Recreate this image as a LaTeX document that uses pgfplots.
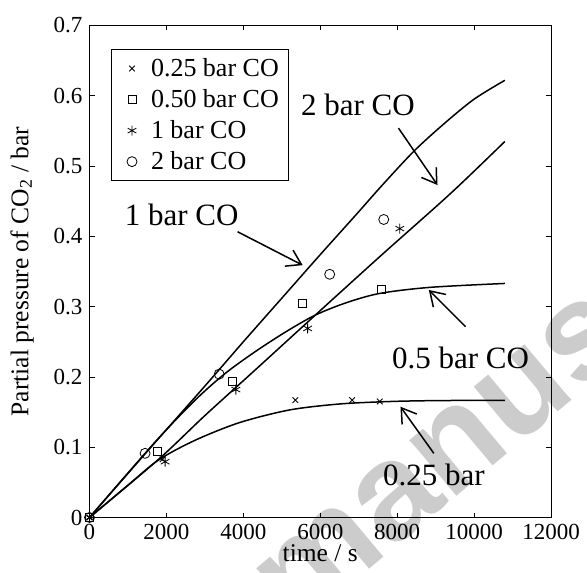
\documentclass[border=0pt]{standalone}
\usepackage{fontspec}
\setmainfont{Liberation Serif}
\newfontfamily\wmfont{Liberation Sans}
\usepackage{pgfplots}
\pgfplotsset{compat=1.18}
\usetikzlibrary{arrows.meta}
\begin{document}
\begin{tikzpicture}
% watermark behind the chart
\node[rotate=40, anchor=base west, text=black!20, font=\wmfont\bfseries\fontsize{69}{70}\selectfont, inner sep=0pt] at (103.5pt,-56.6pt) {manuscript};
\begin{axis}[name=ax,
    scale only axis, width=230.75pt, height=246pt,
    xmin=0, xmax=12000, ymin=0, ymax=0.7,
    xtick={0,2000,...,12000}, ytick={0,0.1,...,0.7},
    scaled x ticks=false, scaled y ticks=false,
    tick align=inside, major tick length=2.5pt,
    axis line style={line width=0.5pt},
    every tick/.style={black,line width=0.4pt},
    /pgf/number format/assume math mode=true,
    xticklabel style={/pgf/number format/1000 sep={}},
    yticklabel style={/pgf/number format/fixed},
    tick label style={font=\fontsize{11.5}{13}\selectfont},
    label style={font=\fontsize{12.75}{14}\selectfont},
    xlabel={time / s},
    ylabel={Partial pressure of CO\textsubscript{2} / bar},
    xlabel style={at={(axis description cs:0.5,-0.072)}, anchor=center},
    ylabel style={at={(axis description cs:-0.146,0.5)}, anchor=center},
    legend style={at={(axis description cs:0,1)}, anchor=north west,
        xshift=11pt, yshift=-12pt, draw=black, line width=0.5pt,
        font=\fontsize{13}{15}\selectfont, cells={anchor=west}, row sep=1pt},
    legend cell align=left,
    legend image code/.code={\path[draw=none] (0,0) -- (14.5pt,0);
        \draw[#1, only marks] plot coordinates {(7pt,0pt)};},
]
% measured points
\addplot[only marks, mark=x, mark size=2pt, mark options={line width=0.4pt}]
  coordinates {(0,0) (1900,0.083) (5352,0.167) (6828,0.167) (7547,0.165)};
\addlegendentry{0.25 bar CO}
\addplot[only marks, mark=square, mark size=2pt, mark options={line width=0.4pt}]
  coordinates {(0,0) (1766,0.0936) (3703,0.193) (5542,0.304) (7591,0.325)};
\addlegendentry{0.50 bar CO}
\addplot[only marks, mark=asterisk, mark size=2.5pt, mark options={line width=0.4pt}]
  coordinates {(0,0) (1966,0.0794) (3806,0.182) (5672,0.269) (8068,0.411)};
\addlegendentry{1 bar CO}
\addplot[only marks, mark=o, mark size=2.5pt, mark options={line width=0.4pt}]
  coordinates {(0,0) (1445,0.0913) (3372,0.204) (6245,0.346) (7651,0.424)};
\addlegendentry{2 bar CO}
% model curves
\addplot[black, line width=0.75pt, smooth, forget plot] coordinates {
  (0,0) (1500,0.094) (3000,0.187) (4000,0.250) (5000,0.312) (6000,0.374)
  (7000,0.435) (7565,0.470) (8432,0.521) (9214,0.560) (9995,0.595) (10800,0.622)};
\addplot[black, line width=0.75pt, smooth, forget plot] coordinates {
  (0,0) (1800,0.083) (3000,0.145) (4310,0.210) (5872,0.288) (7565,0.372)
  (9388,0.461) (10800,0.535)};
\addplot[black, line width=0.75pt, smooth, forget plot] coordinates {
  (0,0) (1700,0.107) (2747,0.167) (3529,0.205) (4310,0.236) (5100,0.264)
  (5872,0.288) (6700,0.306) (7565,0.319) (8867,0.3275) (10800,0.333)};
\addplot[black, line width=0.75pt, smooth, forget plot] coordinates {
  (0,0) (1000,0.046) (1800,0.082) (2750,0.110) (3900,0.135) (5200,0.153)
  (6500,0.1615) (7800,0.165) (9000,0.1663) (10800,0.1668)};
% annotations
\begin{scope}[every node/.style={font=\fontsize{15.5}{17}\selectfont, inner sep=0pt},
    arr/.style={line width=0.75pt, -{Straight Barb[length=7pt,width=9pt]}}]
\node at (axis cs:6979,0.587) {2 bar CO};
\draw[arr] (axis cs:8034,0.554) -- (axis cs:9049,0.473);
\node at (axis cs:2396,0.430) {1 bar CO};
\draw[arr] (axis cs:3849,0.4066) -- (axis cs:5542,0.359);
\node at (axis cs:9648,0.2265) {0.5 bar CO};
\draw[arr] (axis cs:9779,0.2715) -- (axis cs:8823,0.3237);
\node at (axis cs:8953,0.0605) {0.25 bar};
\draw[arr] (axis cs:8953,0.0913) -- (axis cs:8086,0.1576);
\end{scope}
\end{axis}
\pgfresetboundingbox
\path (-44.75pt,-27.25pt) rectangle (248.75pt,258.75pt);
\end{tikzpicture}
\end{document}
